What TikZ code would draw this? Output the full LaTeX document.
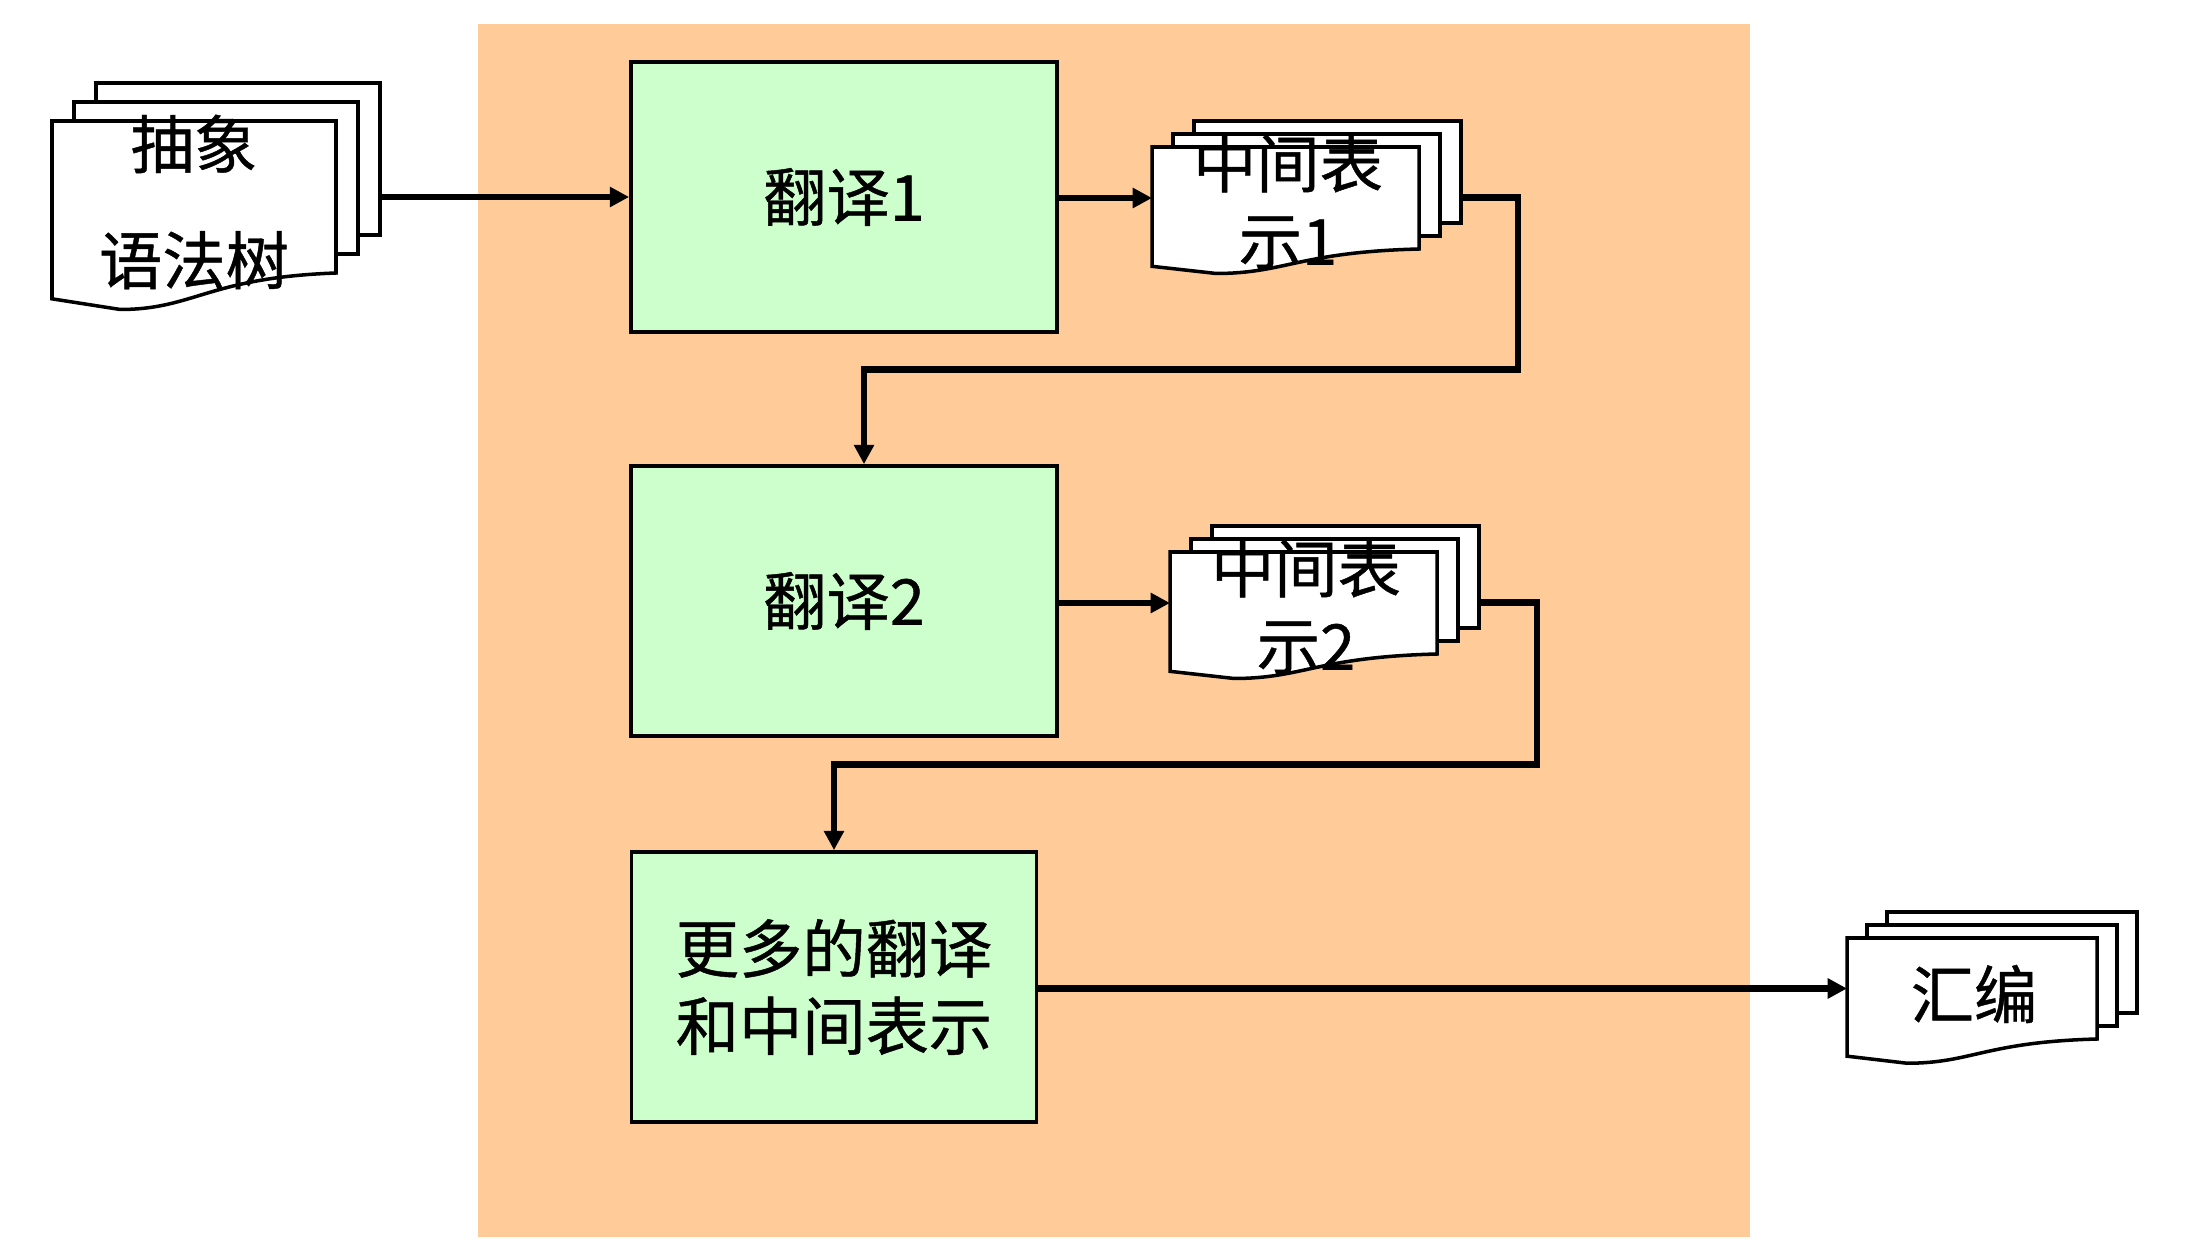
\documentclass[tikz,border=0pt]{standalone}
\usepackage{fontspec}
\setmainfont{Noto Sans CJK SC}[RawFeature={embolden=0.7}]
\usetikzlibrary{arrows.meta}
\definecolor{bgorange}{HTML}{FFCC99}
\definecolor{boxgreen}{HTML}{CCFFCC}

% stacked documents: width/height/dx/dy of the sheets
\tikzset{
  pics/docstack/.style args={#1/#2/#3/#4}{code={
    \foreach \k in {2,1}
      \draw[sheet] ({\k*#3},{-\k*#4}) rectangle ++(#1,#2);
    \draw[sheet] (0,0) -- (#1,0) -- (#1,#2)
      .. controls ({0.55*#1},{1.03*#2}) and ({0.5*#1},{1.24*#2}) .. ({0.24*#1},{1.24*#2})
      -- (0,{1.17*#2}) -- cycle;
    \coordinate (-in) at (0,{0.5*#2});
    \coordinate (-out) at ({#1+2*#3},{0.75*#2-2*#4});
  }}
}

\begin{document}
\begin{tikzpicture}[x=0.01cm, y=-0.01cm,
  sheet/.style={draw=black, fill=white, line width=1pt},
  trbox/.style={draw=black, fill=boxgreen, line width=1pt, minimum width=4.26cm, minimum height=2.7cm, align=center, font=\fontsize{18pt}{22pt}\selectfont},
  doctext/.style={align=center, font=\fontsize{18pt}{22pt}\selectfont},
  arrow/.style={-{Triangle[length=5.5pt,width=5.5pt]}, line width=1.8pt}
]
\fill[white] (0,0) rectangle (2190,1252);
\useasboundingbox (0,0) rectangle (2190,1252);
\fill[bgorange] (478,24) rectangle (1750,1237);

\node[trbox] (tr1) at (844,197) {\raisebox{-2.5pt}{翻译1}};
\node[trbox] (tr2) at (844,601) {\raisebox{-2.5pt}{翻译2}};
\node[trbox, minimum width=4.05cm] (tr3) at (834,987) {\raisebox{-2.5pt}{更多的翻译}\\\raisebox{-2.5pt}{和中间表示}};

\pic (ast) at (52,121) {docstack=284/152/22/19};
\node[doctext] (ast-txt) at (194,202) {抽象\\[11pt]语法树};
\pic (ir1) at (1152,147) {docstack=267/102/21/13};
\node[doctext] (ir1-txt) at (1288,202) {中间表\\示1};
\pic (ir2) at (1170,552) {docstack=267/102/21/13};
\node[doctext] (ir2-txt) at (1306,607) {中间表\\示2};
\pic (asm) at (1847,938) {docstack=250/101/20/13};
\node[doctext] (asm-txt) at (1974,994) {汇编};

\draw[arrow] (ast-out) -- (ast-out -| tr1.west);
\draw[arrow] (tr1.east |- ir1-in) -- (ir1-in);
\draw[arrow] (ir1-out) -- ++(57,0) -- ++(0,172) -| ([xshift=0.2cm]tr2.north);
\draw[arrow] (tr2.east |- ir2-in) -- (ir2-in);
\draw[arrow] (ir2-out) -- ++(58,0) -- ++(0,162) -| (tr3.north);
\draw[arrow] (tr3.east |- asm-in) -- (asm-in);
\end{tikzpicture}
\end{document}
